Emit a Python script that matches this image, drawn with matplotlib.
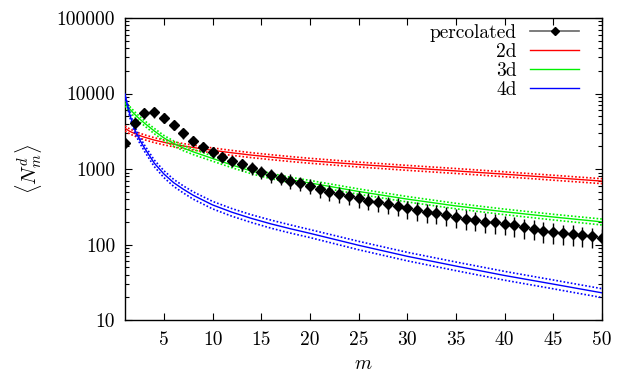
import numpy as np
import matplotlib.pyplot as plt
from matplotlib.lines import Line2D

plt.rcParams.update(
    {
        "font.family": "cmr10",
        "mathtext.fontset": "cm",
        "axes.formatter.use_mathtext": True,
        "font.size": 14,
    }
)

# percolated cluster sizes, m = 1..50
M_DATA = np.arange(1, 51)
N_PERC = [
    2190, 4030, 5470, 5640, 4790, 3830, 2970, 2370, 1970, 1680,
    1455, 1290, 1160, 1040, 920, 833, 767, 700, 647, 596,
    539, 500, 462, 439, 409, 380, 362, 341, 324, 301,
    286, 269, 259, 246, 234, 220, 211, 201, 197, 187,
    180, 169, 162, 152, 148, 141, 139, 132, 128, 123,
]
ERR_PERC = [
    300, 600, 850, 850, 720, 560, 440, 350, 300, 260,
    240, 220, 210, 200, 180, 170, 160, 150, 140, 135,
    125, 120, 112, 108, 102, 96, 93, 89, 86, 81,
    78, 74, 72, 69, 66, 63, 61, 58, 57, 55,
    53, 50, 48, 46, 45, 43, 42, 40, 39, 37,
]

# fitted curves, sampled at these m
M_FIT = [1, 1.5, 2, 2.5, 3, 4, 5, 6, 7, 8, 10, 12, 14, 16, 18, 20, 25, 30, 35, 40, 45, 50]
FIT_2D = [3460, 3150, 2950, 2780, 2640, 2420, 2260, 2130, 2020, 1930, 1770,
          1640, 1530, 1440, 1360, 1290, 1150, 1040, 945, 855, 770, 693]
BAND_2D = [260, 236, 221, 208, 198, 182, 170, 160, 152, 145, 133,
           123, 115, 108, 102, 97, 86, 78, 71, 64, 58, 52]
FIT_3D = [7400, 6200, 5300, 4600, 4050, 3200, 2580, 2180, 1900, 1690, 1380,
          1130, 940, 810, 720, 655, 505, 400, 325, 272, 232, 200]
BAND_3D = [590, 500, 420, 370, 320, 260, 205, 175, 150, 135, 110,
           90, 75, 65, 58, 52, 41, 33, 27, 23, 20, 18]
FIT_4D = [9600, 5200, 3300, 2450, 1900, 1200, 860, 660, 540, 450, 335,
          268, 222, 188, 162, 141, 98, 70, 52, 39, 30, 23]
BAND_4D = [400, 400, 300, 230, 180, 120, 90, 70, 58, 50, 38,
           31, 26, 23, 20, 17, 12.5, 9, 6.8, 5.2, 4, 3.1]

X_TICKS = [5, 10, 15, 20, 25, 30, 35, 40, 45, 50]
Y_TICKS = [10, 100, 1000, 10000, 100000]
Y_TICK_LABELS = ["10", "100", "1000", "10000", "100000"]

COLORS = {"2d": "#ff0000", "3d": "#00f000", "4d": "#0000ff"}


def main():
    fig = plt.figure(figsize=(6.25, 3.74), dpi=100)
    ax = fig.add_axes([0.2, 0.144, 0.763, 0.808])

    m_fit = np.array(M_FIT, dtype=float)
    for name, fit, band in [("2d", FIT_2D, BAND_2D), ("3d", FIT_3D, BAND_3D), ("4d", FIT_4D, BAND_4D)]:
        fit = np.array(fit, dtype=float)
        band = np.array(band, dtype=float)
        c = COLORS[name]
        ax.plot(m_fit, fit, color=c, lw=1.0, zorder=3)
        ax.plot(m_fit, fit + band, color=c, lw=1.2, ls=(0, (1, 1.2)), zorder=3)
        ax.plot(m_fit, fit - band, color=c, lw=1.2, ls=(0, (1, 1.2)), zorder=3)

    ax.errorbar(
        M_DATA, N_PERC, yerr=ERR_PERC, fmt="D", color="black",
        ms=4.6, elinewidth=1.0, capsize=0, zorder=4,
    )

    ax.set_yscale("log")
    ax.set_xlim(1, 50)
    ax.set_ylim(10, 100000)
    ax.set_xticks(X_TICKS, labels=[str(v) for v in X_TICKS])
    ax.set_yticks(Y_TICKS, labels=Y_TICK_LABELS)
    ax.tick_params(which="both", direction="in", top=True, right=True, width=0.8)
    ax.tick_params(which="major", length=5)
    ax.tick_params(which="minor", length=3)
    ax.tick_params(axis="x", pad=8)
    ax.tick_params(axis="y", pad=7)
    ax.minorticks_on()
    ax.xaxis.set_minor_locator(plt.NullLocator())
    for sp in ax.spines.values():
        sp.set_linewidth(1.0)

    ax.set_xlabel(r"$m$", labelpad=4)
    ax.set_ylabel(r"$\langle N_m^d \rangle$", labelpad=9, fontsize=15)

    handles = [
        Line2D([0], [0], color="0.4", lw=1.2, marker="D", mfc="black", mec="black", ms=4.2),
        Line2D([0], [0], color=COLORS["2d"], lw=1.0),
        Line2D([0], [0], color=COLORS["3d"], lw=1.0),
        Line2D([0], [0], color=COLORS["4d"], lw=1.0),
    ]
    ax.legend(
        handles, ["percolated", "2d", "3d", "4d"],
        loc="upper right", bbox_to_anchor=(1 - 23 / 477, 1 - 6 / 302),
        frameon=False, markerfirst=False,
        handlelength=2.5, handletextpad=0.7, labelspacing=0.05,
        borderaxespad=0.0, borderpad=0.0,
    )

    fig.savefig("out.png", dpi=100)


if __name__ == "__main__":
    main()
